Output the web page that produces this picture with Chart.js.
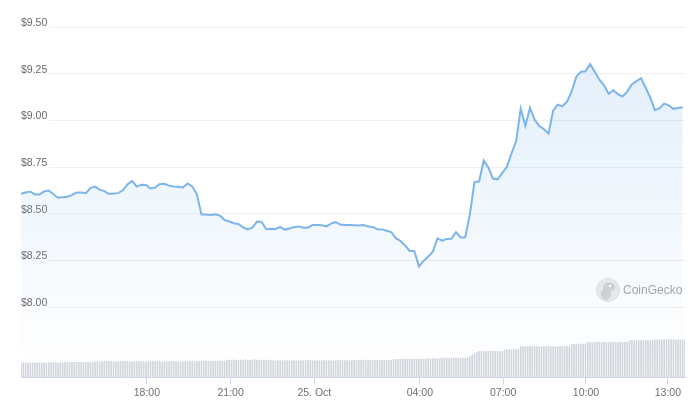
<!DOCTYPE html>
<html>
<head>
<meta charset="utf-8">
<script src="https://cdn.jsdelivr.net/npm/chart.js@4.4.0/dist/chart.umd.min.js"></script>
<style>
  html, body { margin: 0; padding: 0; background: #fff; }
  canvas { display: block; }
</style>
</head>
<body>
<canvas id="chart" width="696" height="405"></canvas>
<script>
// Price, 10-minute steps over 24h (USD)
const PRICES = [
  8.607, 8.614, 8.620, 8.604, 8.604, 8.620, 8.625, 8.605, 8.586, 8.589, 8.592, 8.600,
  8.614, 8.614, 8.611, 8.638, 8.646, 8.630, 8.622, 8.607, 8.609, 8.611, 8.626, 8.657,
  8.677, 8.646, 8.656, 8.655, 8.636, 8.641, 8.660, 8.661, 8.651, 8.646, 8.645, 8.641,
  8.663, 8.647, 8.606, 8.497, 8.497, 8.494, 8.498, 8.490, 8.467, 8.459, 8.450, 8.446,
  8.427, 8.417, 8.426, 8.459, 8.457, 8.418, 8.420, 8.419, 8.430, 8.416, 8.422, 8.429,
  8.433, 8.426, 8.426, 8.441, 8.441, 8.439, 8.433, 8.448, 8.456, 8.443, 8.440, 8.440,
  8.439, 8.438, 8.440, 8.432, 8.430, 8.418, 8.417, 8.410, 8.403, 8.370, 8.355, 8.331,
  8.302, 8.302, 8.219, 8.248, 8.272, 8.298, 8.369, 8.357, 8.365, 8.367, 8.402, 8.374,
  8.375, 8.497, 8.670, 8.673, 8.785, 8.748, 8.689, 8.685, 8.718, 8.752, 8.823, 8.888,
  9.063, 8.971, 9.068, 9.004, 8.970, 8.954, 8.929, 9.052, 9.084, 9.076, 9.100, 9.154,
  9.234, 9.261, 9.263, 9.301, 9.261, 9.218, 9.188, 9.143, 9.162, 9.141, 9.128, 9.154,
  9.192, 9.210, 9.226, 9.175, 9.122, 9.055, 9.066, 9.090, 9.081, 9.062, 9.066, 9.070,
];
const PRICE_STEP = 10; // minutes

// Volume bars, 5-minute steps (millions USD, rough read)
const VOLUMES = [
  5.1,5.1,5.0,5.1,5.1,5.1,5.0,5.1,5.1,5.1,5.1,5.0,5.1,5.1,5.1,5.1,5.0,5.1,5.1,
  5.3,5.3,5.2,5.3,5.3,5.3,5.3,5.2,5.3,5.3,5.3,5.3,5.2,
  5.5,5.5,5.4,5.5,5.5,5.6,5.5,5.5,5.4,5.5,5.5,
  5.5,5.6,5.5,5.5,5.4,5.5,5.5,5.5,5.6,5.5,5.5,
  5.4,5.5,5.5,5.5,5.5,5.6,5.5,5.4,5.5,5.5,5.5,
  5.5,5.6,5.5,5.5,5.4,5.5,5.5,5.5,5.5,5.6,5.5,
  5.7,5.7,5.8,5.7,5.7,5.7,5.6,5.7,5.7,5.8,5.7,5.7,5.7,
  6.0,6.1,6.0,6.1,6.0,6.0,6.1,6.0,6.1,6.0,6.0,6.1,6.1,6.0,6.0,6.1,6.0,6.1,
  5.9,5.9,5.8,5.9,5.9,5.9,6.0,5.9,5.9,5.8,5.9,5.9,
  5.9,5.9,5.9,5.8,5.9,5.9,6.0,5.9,5.9,5.9,5.8,5.9,
  5.9,5.9,5.9,5.9,5.8,5.9,5.9,6.0,5.9,5.9,5.9,5.9,
  6.0,6.0,5.9,6.0,6.0,6.0,6.1,6.0,6.0,6.0,5.9,6.0,6.0,6.0,6.1,6.0,6.0,6.0,
  6.2,6.3,6.3,6.3,6.2,6.3,6.3,6.4,6.3,6.3,6.3,6.2,6.3,6.3,6.4,
  6.5,6.6,6.6,6.6,6.5,6.6,
  6.7,6.7,6.7,6.6,6.7,6.7,6.8,6.7,6.7,6.7,6.7,6.8,
  7.2,7.7,8.2,8.6,
  9.0,9.0,8.9,9.0,9.0,9.1,9.0,9.0,9.0,8.9,9.0,
  9.5,9.6,9.6,9.6,9.7,9.6,9.6,
  10.7,10.7,10.6,10.7,10.8,10.7,10.7,10.7,10.6,10.7,10.7,
  10.7,10.8,10.7,10.7,10.7,10.6,10.7,10.7,10.7,10.8,10.7,
  11.4,11.5,11.5,11.6,11.5,11.5,11.5,
  12.1,12.1,12.0,12.1,12.1,12.2,12.1,12.1,12.1,
  12.0,12.1,12.1,12.1,12.2,12.1,12.1,12.1,12.1,
  12.7,12.7,12.8,12.7,12.7,12.8,12.7,12.7,12.8,12.7,12.8,
  13.0,13.0,12.9,13.0,13.0,13.0,13.1,13.0,13.0,13.0,12.9,13.0,13.0,13.0,
];
const VOLUME_STEP = 5; // minutes

// Axis ticks
const X_TICK_MINUTES = [272, 453, 634, 862, 1042, 1221, 1398];
const X_TICK_LABELS = ["18:00", "21:00", "25. Oct", "04:00", "07:00", "10:00", "13:00"];
const Y_TICKS = [8.00, 8.25, 8.50, 8.75, 9.00, 9.25, 9.50];

const LINE = "#7cb5ec";
const FONT = { family: "'Liberation Sans', Arial, sans-serif", size: 10.5 };

function areaFill(ctx) {
  const area = ctx.chart.chartArea;
  if (!area) return "rgba(124,181,236,0.1)";
  const g = ctx.chart.ctx.createLinearGradient(0, area.top, 0, area.bottom);
  g.addColorStop(0, "rgba(124,181,236,0.24)");
  g.addColorStop(0.8, "rgba(124,181,236,0.04)");
  g.addColorStop(1, "rgba(124,181,236,0)");
  return g;
}

// CoinGecko watermark
const watermark = {
  id: "watermark",
  beforeDatasetsDraw(chart) {
    const c = chart.ctx;
    const cx = 608, cy = 290;
    c.save();
    c.beginPath(); c.arc(cx, cy, 11.5, 0, Math.PI * 2);
    c.fillStyle = "#ececec"; c.fill();
    c.lineWidth = 1; c.strokeStyle = "#dedede"; c.stroke();
    c.beginPath();
    c.ellipse(cx + 1, cy - 3, 6, 4.5, 0, 0, Math.PI * 2);
    c.ellipse(cx - 2, cy + 4, 5, 6, 0, 0, Math.PI * 2);
    c.fillStyle = "#d2d2d2"; c.fill();
    c.beginPath(); c.arc(cx + 2, cy - 4, 1.3, 0, Math.PI * 2);
    c.fillStyle = "#fff"; c.fill();
    c.font = "12px 'Liberation Sans', Arial, sans-serif";
    c.fillStyle = "#a4a4a4";
    c.textBaseline = "middle";
    c.fillText("CoinGecko", 623, cy + 1);
    c.restore();
  },
};

new Chart(document.getElementById("chart"), {
  type: "line",
  data: {
    datasets: [
      {
        label: "Price",
        data: PRICES.map((p, i) => ({ x: i * PRICE_STEP, y: p })),
        borderColor: LINE,
        borderWidth: 2,
        pointRadius: 0,
        tension: 0,
        fill: "start",
        backgroundColor: areaFill,
        yAxisID: "y",
        order: 0,
      },
      {
        type: "bar",
        label: "Volume",
        data: VOLUMES.map((v, i) => ({ x: i * VOLUME_STEP, y: v })),
        backgroundColor: "#d3d6dc",
        barPercentage: 0.72,
        categoryPercentage: 1,
        yAxisID: "vol",
        order: 1,
      },
    ],
  },
  options: {
    responsive: false,
    animation: false,
    layout: { padding: { left: 21, right: 11, top: 27, bottom: 4 } },
    plugins: { legend: { display: false }, tooltip: { enabled: false } },
    scales: {
      x: {
        type: "linear",
        min: 0,
        max: 1435,
        offset: false,
        afterBuildTicks: (s) => { s.ticks = X_TICK_MINUTES.map((v) => ({ value: v })); },
        ticks: {
          callback: (v, i) => X_TICK_LABELS[i],
          color: "#707070",
          font: FONT,
          padding: 2,
          maxRotation: 0,
          autoSkip: false,
        },
        grid: { offset: false, drawOnChartArea: false, drawTicks: true, tickLength: 7, tickColor: "#ccd6eb" },
        border: { color: "#ccd6eb", width: 1 },
      },
      y: {
        min: 7.625,
        max: 9.5,
        afterBuildTicks: (s) => { s.ticks = Y_TICKS.map((v) => ({ value: v })); },
        ticks: {
          mirror: true,
          padding: 0,
          labelOffset: -4,
          callback: (v) => "$" + Number(v).toFixed(2),
          color: "#6a6a6a",
          font: FONT,
          showLabelBackdrop: true,
          backdropColor: "#ffffff",
          backdropPadding: { x: 1, y: 0 },
        },
        grid: { color: "#f0f0f0", drawTicks: false },
        border: { display: false },
      },
      vol: {
        display: false,
        min: 0,
        max: 120,
      },
    },
  },
  plugins: [watermark],
});
</script>
</body>
</html>
